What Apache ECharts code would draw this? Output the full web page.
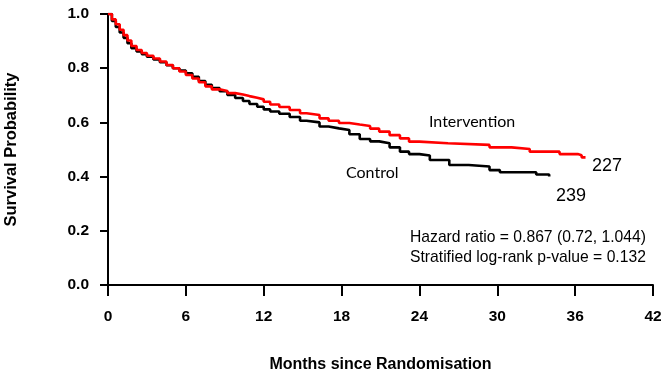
<!DOCTYPE html>
<html>
<head>
<meta charset="utf-8">
<script src="https://cdn.jsdelivr.net/npm/echarts@6/dist/echarts.min.js"></script>
<style>
html,body{margin:0;padding:0;background:#fff;}
#c{width:670px;height:378px;}
</style>
</head>
<body>
<div id="c"></div>
<script>
var xTicks = [0, 6, 12, 18, 24, 30, 36, 42];
var yTicks = [0, 0.2, 0.4, 0.6, 0.8, 1.0];

var interventionMonths = [0, 0.3, 0.6, 0.9, 1.2, 1.5, 1.8, 2.2, 2.6, 3.0, 3.5, 4.0, 4.5, 5.0, 5.5, 6.0, 6.5, 7.0, 7.5, 8.0, 8.6, 9.2, 9.8, 10.4, 10.9, 11.5, 12.0, 12.5, 13.2, 14.0, 14.8, 15.3, 16.3, 17.0, 17.8, 18.6, 19.4, 20.2, 20.9, 21.7, 22.5, 23.2, 24.0, 26.2, 29.4, 31.1, 32.5, 34.8, 36.2, 36.5, 36.8];
var interventionSurv = [1.0, 0.98, 0.962, 0.942, 0.922, 0.902, 0.882, 0.867, 0.856, 0.846, 0.836, 0.825, 0.812, 0.800, 0.788, 0.775, 0.762, 0.748, 0.733, 0.722, 0.716, 0.708, 0.703, 0.697, 0.691, 0.685, 0.676, 0.666, 0.657, 0.646, 0.634, 0.627, 0.615, 0.606, 0.598, 0.592, 0.587, 0.577, 0.566, 0.553, 0.541, 0.529, 0.523, 0.517, 0.508, 0.502, 0.492, 0.483, 0.479, 0.471, 0.471];

var controlMonths = [0, 0.3, 0.6, 0.9, 1.2, 1.5, 1.8, 2.2, 2.6, 3.0, 3.5, 4.0, 4.5, 5.0, 5.5, 6.0, 6.5, 7.0, 7.5, 8.0, 8.6, 9.2, 9.8, 10.4, 10.9, 11.5, 12.0, 12.5, 13.2, 14.0, 14.8, 15.3, 16.3, 17.0, 17.8, 18.6, 19.4, 20.2, 20.9, 21.7, 22.5, 23.2, 24.0, 24.8, 26.3, 27.8, 29.4, 30.2, 33.0, 34.0];
var controlSurv = [1.0, 0.974, 0.952, 0.932, 0.912, 0.892, 0.874, 0.862, 0.852, 0.842, 0.832, 0.822, 0.811, 0.800, 0.791, 0.781, 0.768, 0.753, 0.739, 0.727, 0.715, 0.701, 0.690, 0.679, 0.668, 0.658, 0.648, 0.640, 0.632, 0.620, 0.606, 0.600, 0.585, 0.578, 0.572, 0.556, 0.539, 0.530, 0.523, 0.508, 0.492, 0.483, 0.478, 0.461, 0.443, 0.437, 0.424, 0.416, 0.408, 0.400];

function pairs(xs, ys) {
  var out = [];
  for (var i = 0; i < xs.length; i++) out.push([xs[i], ys[i]]);
  return out;
}

var chart = echarts.init(document.getElementById('c'), null, {renderer: 'canvas'});
var FONT = '"Liberation Sans", Arial, sans-serif';
var option = {
  animation: false,
  backgroundColor: '#ffffff',
  grid: {left: 108, right: 17, top: 14, bottom: 93, containLabel: false, outerBoundsMode: 'none'},
  xAxis: {
    type: 'value', min: 0, max: 42, interval: 6,
    name: 'Months since Randomisation', nameLocation: 'middle', nameGap: 72,
    nameTextStyle: {fontFamily: FONT, fontWeight: 'bold', fontSize: 16, color: '#000'},
    axisLine: {onZero: false, lineStyle: {color: '#000', width: 2}},
    axisTick: {show: true, length: 11, lineStyle: {color: '#000', width: 2}},
    axisLabel: {margin: 24, fontFamily: FONT, fontWeight: 'bold', fontSize: 15.5, color: '#000',
      formatter: function (v) { return xTicks.indexOf(v) >= 0 ? String(v) : ''; }},
    splitLine: {show: false}
  },
  yAxis: {
    type: 'value', min: 0, max: 1, interval: 0.2,
    name: 'Survival Probability', nameLocation: 'middle', nameGap: 88, nameRotate: 90,
    nameTextStyle: {fontFamily: FONT, fontWeight: 'bold', fontSize: 16.5, color: '#000'},
    axisLine: {show: true, onZero: false, lineStyle: {color: '#000', width: 2}},
    axisTick: {show: true, length: 8, lineStyle: {color: '#000', width: 2}},
    axisLabel: {margin: 19, fontFamily: FONT, fontWeight: 'bold', fontSize: 15.5, color: '#000',
      formatter: function (v) { return v.toFixed(1); }},
    splitLine: {show: false}
  },
  series: [
    {name: 'Control', type: 'line', step: 'end', showSymbol: false, symbol: 'none',
      data: pairs(controlMonths, controlSurv),
      lineStyle: {color: '#000000', width: 2.6}, z: 2},
    {name: 'Intervention', type: 'line', step: 'end', showSymbol: false, symbol: 'none',
      data: pairs(interventionMonths, interventionSurv),
      lineStyle: {color: '#ff0000', width: 2.6}, z: 3}
  ],
  graphic: [
    {type: 'text', left: 429, top: 114, style: {text: 'Intervention', font: '16px Lato, "Liberation Sans", sans-serif', fill: '#000'}},
    {type: 'text', left: 346, top: 165, style: {text: 'Control', font: '16px Lato, "Liberation Sans", sans-serif', fill: '#000'}},
    {type: 'text', left: 592, top: 157, style: {text: '227', font: '18px ' + FONT, fill: '#000'}},
    {type: 'text', left: 556, top: 187, style: {text: '239', font: '18px ' + FONT, fill: '#000'}},
    {type: 'text', left: 410, top: 230, style: {text: 'Hazard ratio = 0.867 (0.72, 1.044)', font: '15.7px ' + FONT, fill: '#000'}},
    {type: 'text', left: 410, top: 250, style: {text: 'Stratified log-rank p-value = 0.132', font: '15.7px ' + FONT, fill: '#000'}}
  ]
};
chart.setOption(option);
</script>
</body>
</html>
